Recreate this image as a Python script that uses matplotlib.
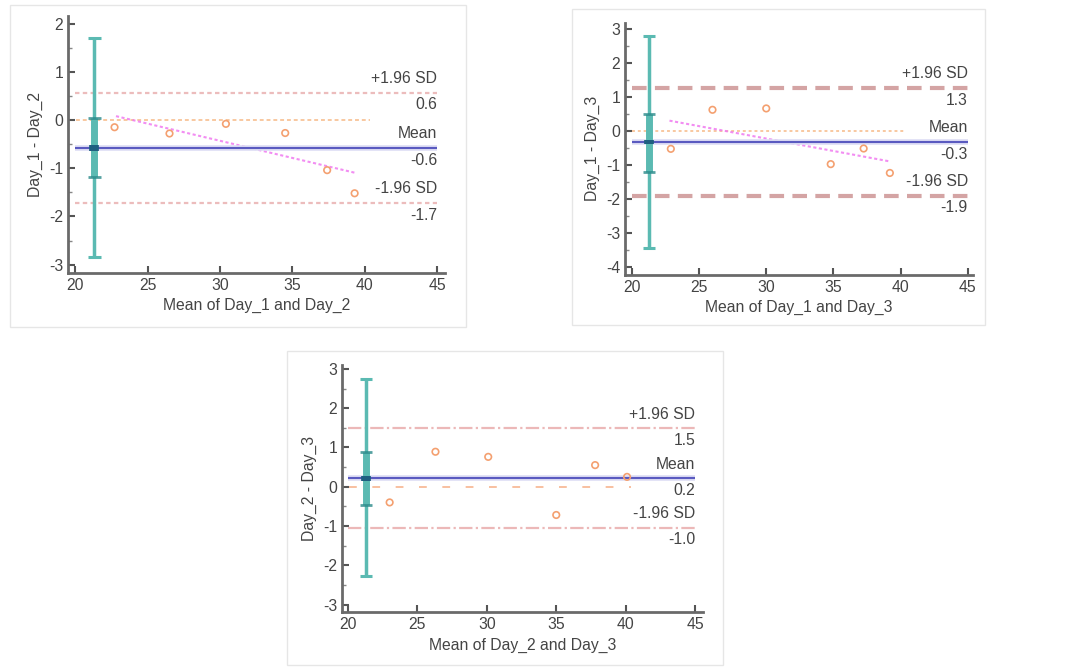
import numpy as np
import matplotlib.pyplot as plt
from matplotlib.patches import Rectangle

plt.rcParams['font.family'] = ['Liberation Sans', 'DejaVu Sans']
plt.rcParams['axes.unicode_minus'] = False

# panel 1: Day_1 vs Day_2
x12 = [22.7, 26.5, 30.4, 34.5, 37.4, 39.3]
d12 = [-0.15, -0.28, -0.08, -0.27, -1.04, -1.52]
lim12 = [-0.58, 0.57, -1.72]   # mean, +1.96 SD, -1.96 SD
ci12 = [-2.84, 1.70, -1.18, 0.04]
reg12 = [(22.8, 39.4), (0.08, -1.1)]

# panel 2: Day_1 vs Day_3
x13 = [22.9, 26.0, 30.0, 34.8, 37.25, 39.2]
d13 = [-0.53, 0.62, 0.66, -0.98, -0.52, -1.24]
lim13 = [-0.33, 1.26, -1.91]
ci13 = [-3.45, 2.79, -1.21, 0.51]
reg13 = [(22.8, 39.2), (0.30, -0.90)]

# panel 3: Day_2 vs Day_3
x23 = [23.0, 26.3, 30.1, 35.0, 37.8, 40.1]
d23 = [-0.40, 0.89, 0.76, -0.72, 0.55, 0.25]
lim23 = [0.21, 1.49, -1.04]
ci23 = [-2.28, 2.74, -0.47, 0.89]

lim_text = [['-0.6', '0.6', '-1.7'], ['-0.3', '1.3', '-1.9'], ['0.2', '1.5', '-1.0']]

fig = plt.figure(figsize=(10.91, 6.72), dpi=100)

# light frames around each panel
for (x0, y0, x1, y1) in [(10, 5, 466, 327), (572, 9, 985, 325), (287, 351, 723, 665)]:
    fig.patches.append(Rectangle((x0 / 1091, 1 - y1 / 672), (x1 - x0) / 1091, (y1 - y0) / 672,
                                 transform=fig.transFigure, fill=False, ec='#e6e6e6', lw=1))

ax1 = fig.add_axes([0.0623, 0.594, 0.3456, 0.3824])
ax2 = fig.add_axes([0.573, 0.591, 0.319, 0.375])
ax3 = fig.add_axes([0.3135, 0.0893, 0.3306, 0.3676])

teal = '#5bbab2'
dark = '#2a8a8a'
txt = '#444444'


def panel(ax, x, d, lim, ci, labels, xlab, ylab, ylim, yticks, limstyle, reg=None, zerostyle=None):
    ax.set_xlim(19.5, 45.4)
    ax.set_ylim(*ylim)
    mean, up, lo = lim
    ax.axhline(0, xmin=0.02, xmax=0.80, **zerostyle)
    if reg is not None:
        ax.plot(reg[0], reg[1], color='#f07af0', lw=1.5, ls=(0, (1.5, 1.2)), alpha=0.85, zorder=2)
    ax.hlines([up, lo], 20, 45, **limstyle, zorder=2)
    ax.hlines(mean, 20, 45, color='#dcdcf4', lw=4, zorder=2)
    ax.hlines(mean, 20, 45, color='#5a5ac0', lw=1.5, zorder=3)
    # confidence bars
    xc = 21.3
    ax.vlines(xc, ci[0], ci[1], color=teal, lw=2.5, zorder=4)
    ax.hlines([ci[0], ci[1]], xc - 0.45, xc + 0.45, color=teal, lw=2.2, zorder=4)
    ax.vlines(xc, ci[2], ci[3], color=teal, lw=5, zorder=4)
    ax.hlines([ci[2], ci[3]], xc - 0.45, xc + 0.45, color=dark, lw=2, alpha=0.8, zorder=5)
    ax.vlines(xc, mean - 0.06, mean + 0.06, color='#1f5f80', lw=7, zorder=5)
    ax.scatter(x, d, s=22, facecolors='none', edgecolors='#f4a070', lw=1.2, zorder=6)
    off = 0.06 * (ylim[1] - ylim[0])
    for val, name, num in [(up, '+1.96 SD', labels[1]), (mean, 'Mean', labels[0]), (lo, '-1.96 SD', labels[2])]:
        ax.text(45, val + off * 0.45, name, ha='right', va='bottom', fontsize=11.3, color=txt)
        ax.text(45, val - off * 0.3, num, ha='right', va='top', fontsize=11.3, color=txt)
    ax.set_xticks([20, 25, 30, 35, 40, 45])
    ax.set_yticks(yticks)
    ax.set_yticks(np.arange(yticks[0], yticks[-1] + 0.01, 0.5), minor=True)
    ax.tick_params(direction='in', length=5, width=1.5, colors='#555555', labelcolor=txt, labelsize=11.3)
    ax.tick_params(which='minor', direction='in', length=3, width=1, colors='#888888')
    for s in ['top', 'right']:
        ax.spines[s].set_visible(False)
    for s in ['left', 'bottom']:
        ax.spines[s].set_color('#6a6a6a')
        ax.spines[s].set_linewidth(2)
    ax.set_xlabel(xlab, fontsize=11.3, color=txt, labelpad=4)
    ax.set_ylabel(ylab, fontsize=11.3, color=txt, labelpad=4)


panel(ax1, x12, d12, lim12, ci12, lim_text[0], 'Mean of Day_1 and Day_2', 'Day_1 - Day_2',
      (-3.17, 2.16), [-3, -2, -1, 0, 1, 2],
      dict(color='#ecbcbc', lw=1.6, ls=(0, (2, 1.5))), reg=reg12,
      zerostyle=dict(color='#f8c8a0', lw=1.4, ls=(0, (2, 1.5)), zorder=1))
panel(ax2, x13, d13, lim13, ci13, lim_text[1], 'Mean of Day_1 and Day_3', 'Day_1 - Day_3',
      (-4.24, 3.18), [-4, -3, -2, -1, 0, 1, 2, 3],
      dict(color='#d4a4a4', lw=3, ls=(0, (3.5, 2))), reg=reg13,
      zerostyle=dict(color='#f8c8a0', lw=1.4, ls=(0, (1.5, 1.5)), zorder=1))
panel(ax3, x23, d23, lim23, ci23, lim_text[2], 'Mean of Day_2 and Day_3', 'Day_2 - Day_3',
      (-3.19, 3.1), [-3, -2, -1, 0, 1, 2, 3],
      dict(color='#ecb8b8', lw=1.6, ls=(0, (6, 1.5, 1, 1.5))),
      zerostyle=dict(color='#f8c0a0', lw=1.4, ls=(0, (4, 8)), zorder=1))
ax3.set_xlim(19.57, 45.55)
ax1.set_xlim(19.48, 45.55)

fig.savefig('out.png', dpi=100)
